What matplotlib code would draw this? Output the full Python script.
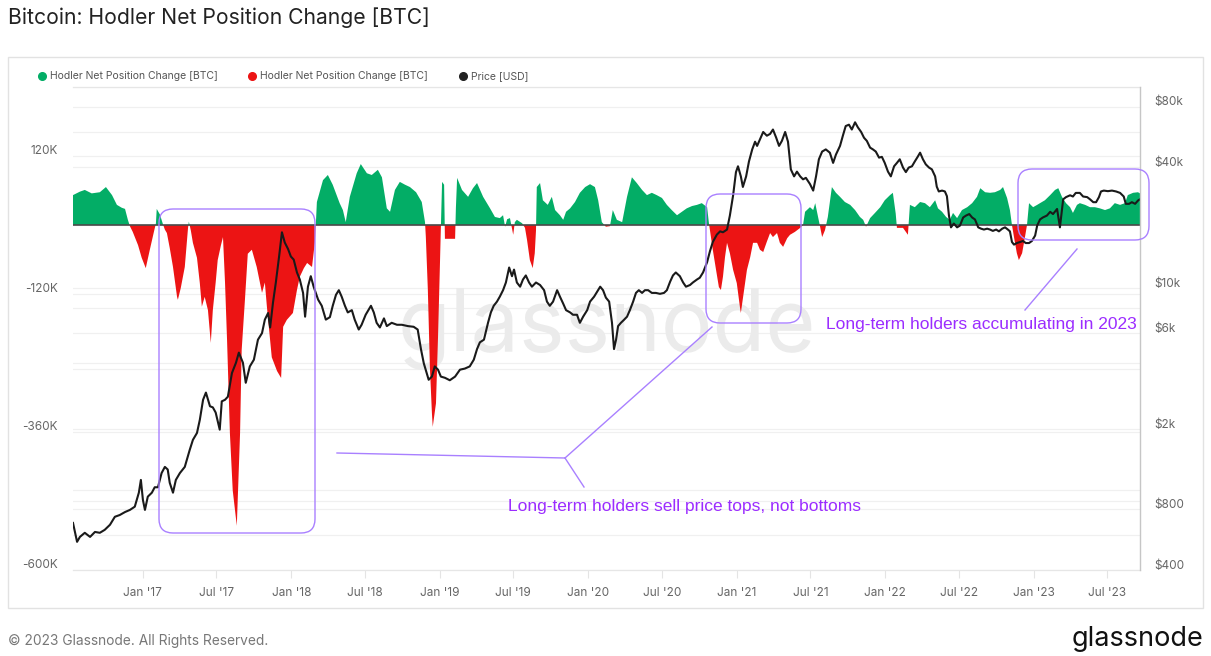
import matplotlib

matplotlib.use("Agg")
import matplotlib.dates as mdates
import matplotlib.pyplot as plt
import numpy as np
import pandas as pd
from matplotlib.patches import FancyBboxPatch, Rectangle
from matplotlib.ticker import FuncFormatter, NullLocator
from matplotlib.transforms import ScaledTranslation, blended_transform_factory

plt.rcParams["font.family"] = ["Inter", "DejaVu Sans"]

# Hodler net position change, thousands of BTC
netpos_dates = [
    "2016-07-13", "2016-07-30", "2016-08-11", "2016-08-28", "2016-09-17", "2016-10-02",
    "2016-10-17", "2016-10-29", "2016-11-10", "2016-11-18", "2016-11-25", "2016-11-30",
    "2016-12-07", "2016-12-20", "2016-12-29",
    "2017-01-08", "2017-01-18", "2017-01-28", "2017-02-02", "2017-02-04", "2017-02-12",
    "2017-02-19", "2017-02-24", "2017-03-01", "2017-03-08", "2017-03-16", "2017-03-26",
    "2017-03-28", "2017-04-04", "2017-04-14", "2017-04-22", "2017-04-24", "2017-04-29",
    "2017-05-04", "2017-05-14", "2017-05-21", "2017-05-26", "2017-06-02", "2017-06-10",
    "2017-06-17", "2017-06-22", "2017-06-29", "2017-07-04", "2017-07-12", "2017-07-17",
    "2017-07-22", "2017-07-27", "2017-08-03", "2017-08-10", "2017-08-20", "2017-08-28",
    "2017-09-01", "2017-09-09", "2017-09-16", "2017-09-26", "2017-10-08", "2017-10-21",
    "2017-10-28", "2017-11-02", "2017-11-14", "2017-11-27", "2017-12-07", "2017-12-12",
    "2017-12-21",
    "2018-01-05", "2018-01-15", "2018-01-22", "2018-02-01", "2018-02-09", "2018-02-21",
    "2018-02-28", "2018-03-03", "2018-03-05", "2018-03-20", "2018-04-01", "2018-04-13",
    "2018-04-30", "2018-05-08", "2018-05-15", "2018-05-25", "2018-06-11", "2018-06-21",
    "2018-07-06", "2018-07-18", "2018-08-02", "2018-08-12", "2018-08-24", "2018-09-01",
    "2018-09-13", "2018-09-25", "2018-10-08", "2018-10-20", "2018-11-04", "2018-11-18",
    "2018-11-26", "2018-11-28", "2018-12-03", "2018-12-08", "2018-12-13", "2018-12-15",
    "2018-12-23", "2018-12-28",
    "2019-01-02", "2019-01-04", "2019-01-07", "2019-01-12", "2019-01-14", "2019-02-08",
    "2019-02-10", "2019-02-13", "2019-02-25", "2019-03-12", "2019-03-24", "2019-04-03",
    "2019-04-18", "2019-05-05", "2019-05-17", "2019-05-29", "2019-06-06", "2019-06-11",
    "2019-06-16", "2019-06-23", "2019-07-01", "2019-07-05", "2019-07-10", "2019-07-23",
    "2019-07-30", "2019-08-04", "2019-08-11", "2019-08-18", "2019-08-23", "2019-08-26",
    "2019-08-28", "2019-09-05", "2019-09-12", "2019-09-24", "2019-10-04", "2019-10-12",
    "2019-10-24", "2019-11-01", "2019-11-08", "2019-11-18", "2019-11-30", "2019-12-12",
    "2019-12-25",
    "2020-01-06", "2020-01-18", "2020-01-26", "2020-02-04", "2020-02-14", "2020-02-24",
    "2020-03-02", "2020-03-12", "2020-03-25", "2020-04-06", "2020-04-18", "2020-04-30",
    "2020-05-13", "2020-05-25", "2020-06-06", "2020-06-18", "2020-07-01", "2020-07-13",
    "2020-07-25", "2020-08-07", "2020-08-19", "2020-08-31", "2020-09-13", "2020-09-25",
    "2020-10-07", "2020-10-20", "2020-10-25", "2020-10-27", "2020-11-03", "2020-11-11",
    "2020-11-18", "2020-11-23", "2020-11-28", "2020-12-03", "2020-12-08", "2020-12-15",
    "2020-12-23",
    "2021-01-01", "2021-01-09", "2021-01-11", "2021-01-19", "2021-01-26", "2021-02-03",
    "2021-02-10", "2021-02-20", "2021-02-27", "2021-03-07", "2021-03-16", "2021-03-24",
    "2021-03-31", "2021-04-10", "2021-04-17", "2021-04-25", "2021-05-05", "2021-05-12",
    "2021-05-24", "2021-06-06", "2021-06-13", "2021-06-18", "2021-06-30", "2021-07-08",
    "2021-07-13", "2021-07-20", "2021-07-25", "2021-07-30", "2021-08-06", "2021-08-13",
    "2021-08-23", "2021-09-02", "2021-09-12", "2021-09-24", "2021-10-07", "2021-10-19",
    "2021-10-31", "2021-11-08", "2021-11-15", "2021-11-25", "2021-12-07", "2021-12-20",
    "2021-12-31",
    "2022-01-13", "2022-01-20", "2022-01-27", "2022-01-30", "2022-02-14", "2022-02-26",
    "2022-03-03", "2022-03-15", "2022-03-28", "2022-04-09", "2022-04-21", "2022-05-04",
    "2022-05-11", "2022-05-21", "2022-05-31", "2022-06-09", "2022-06-17", "2022-06-27",
    "2022-07-09", "2022-07-22", "2022-08-03", "2022-08-15", "2022-08-23", "2022-09-04",
    "2022-09-16", "2022-09-28", "2022-10-11", "2022-10-18", "2022-10-28", "2022-11-04",
    "2022-11-09", "2022-11-14", "2022-11-21", "2022-11-26", "2022-12-04", "2022-12-11",
    "2022-12-16", "2022-12-21", "2022-12-31",
    "2023-01-10", "2023-01-17", "2023-01-29", "2023-02-11", "2023-02-23", "2023-03-03",
    "2023-03-12", "2023-03-22", "2023-04-01", "2023-04-08", "2023-04-18", "2023-04-25",
    "2023-05-08", "2023-05-20", "2023-06-01", "2023-06-13", "2023-06-26", "2023-07-08",
    "2023-07-20", "2023-08-02", "2023-08-14", "2023-08-21", "2023-09-03", "2023-09-15",
    "2023-09-20",
]
netpos_k = [
    52, 58, 61, 55, 57, 66,
    52, 35, 30, 28, 9, -2,
    -12, -35, -57,
    -75, -43, -12, 3, 28, 18,
    2, -8, -14, -40, -73, -125,
    -130, -110, -73, -5, 6, -10,
    -31, -57, -101, -142, -125, -148,
    -205, -148, -100, -61, -35, -21,
    -100, -200, -362, -462, -523, -362,
    -217, -130, -50, -43, -73, -118,
    -100, -142, -230, -254, -266, -177,
    -165,
    -153, -113, -90, -75, -66, -73,
    -30, 10, 40, 78, 87, 70,
    38, 26, 5, 49, 90, 106,
    90, 87, 96, 83, 29, 23,
    61, 75, 70, 66, 57, 40,
    5, -20, -113, -247, -327, -351,
    -310, -195,
    -61, -5, 75, 70, -24, -24,
    30, 82, 61, 49, 64, 73,
    49, 29, 14, 12, 17, -3,
    10, 12, -17, 5, 9, 3,
    -5, -26, -61, -75, -49, -10,
    66, 73, 43, 35, 49, 26,
    17, 9, 23, 29, 40, 56,
    66,
    71, 66, 43, 5, -3, -2,
    26, 9, 5, 49, 83, 73,
    61, 52, 56, 52, 47, 35,
    26, 17, 23, 29, 33, 35,
    38, 31, 0, -9, -43, -78,
    -108, -113, -90, -56, -31, -49,
    -78,
    -101, -144, -153, -113, -78, -56,
    -31, -31, -43, -47, -29, -14,
    -21, -14, -31, -38, -23, -17,
    -12, -5, 0, 23, 31, 26,
    38, 14, -3, -21, -9, 14,
    66, 56, 49, 40, 35, 26,
    14, 9, -3, 12, 21, 31,
    43,
    52, 56, 20, -5, -5, -17,
    35, 31, 40, 38, 31, 43,
    29, 23, 14, 9, 21, 12,
    26, 31, 38, 49, 64, 57,
    56, 57, 61, 66, 47, 26,
    0, -21, -49, -61, -49, -21,
    0, 38, 31,
    35, 38, 43, 52, 61, 64,
    49, 38, 31, 21, 35, 38,
    35, 31, 31, 29, 26, 29,
    38, 35, 38, 52, 56, 57,
    55,
]

# Bitcoin price, USD
price_dates = [
    "2016-07-13", "2016-07-23", "2016-07-30", "2016-08-11", "2016-08-24", "2016-09-05",
    "2016-09-17", "2016-09-29", "2016-10-12", "2016-10-24", "2016-11-05", "2016-11-18",
    "2016-11-30", "2016-12-12", "2016-12-22", "2016-12-27",
    "2017-01-01", "2017-01-06", "2017-01-13", "2017-01-23", "2017-01-30", "2017-02-07",
    "2017-02-16", "2017-02-24", "2017-03-03", "2017-03-08", "2017-03-16", "2017-03-23",
    "2017-04-02", "2017-04-14", "2017-04-26", "2017-05-04", "2017-05-14", "2017-05-21",
    "2017-05-29", "2017-06-05", "2017-06-15", "2017-06-22", "2017-06-29", "2017-07-09",
    "2017-07-14", "2017-07-22", "2017-07-29", "2017-08-08", "2017-08-18", "2017-08-25",
    "2017-09-04", "2017-09-11", "2017-09-21", "2017-10-01", "2017-10-11", "2017-10-21",
    "2017-10-28", "2017-11-05", "2017-11-10", "2017-11-17", "2017-11-24", "2017-12-02",
    "2017-12-09", "2017-12-16", "2017-12-24", "2017-12-31",
    "2018-01-07", "2018-01-15", "2018-01-22", "2018-01-30", "2018-02-04", "2018-02-11",
    "2018-02-18", "2018-02-25", "2018-03-08", "2018-03-17", "2018-03-27", "2018-04-06",
    "2018-04-13", "2018-04-21", "2018-04-28", "2018-05-05", "2018-05-13", "2018-05-20",
    "2018-05-30", "2018-06-06", "2018-06-16", "2018-06-23", "2018-07-03", "2018-07-16",
    "2018-07-23", "2018-07-30", "2018-08-07", "2018-08-17", "2018-08-24", "2018-09-05",
    "2018-09-18", "2018-09-30", "2018-10-15", "2018-10-29", "2018-11-08", "2018-11-16",
    "2018-11-23", "2018-11-30", "2018-12-05", "2018-12-13", "2018-12-20", "2018-12-28",
    "2019-01-04", "2019-01-14", "2019-01-26", "2019-02-08", "2019-02-20", "2019-03-04",
    "2019-03-16", "2019-03-26", "2019-04-03", "2019-04-10", "2019-04-20", "2019-04-30",
    "2019-05-07", "2019-05-14", "2019-05-22", "2019-05-29", "2019-06-06", "2019-06-13",
    "2019-06-21", "2019-06-28", "2019-07-03", "2019-07-10", "2019-07-18", "2019-07-25",
    "2019-08-01", "2019-08-09", "2019-08-16", "2019-08-26", "2019-09-05", "2019-09-15",
    "2019-09-22", "2019-09-29", "2019-10-07", "2019-10-17", "2019-10-24", "2019-11-01",
    "2019-11-08", "2019-11-18", "2019-11-25", "2019-12-05", "2019-12-12", "2019-12-20",
    "2019-12-30",
    "2020-01-06", "2020-01-16", "2020-01-23", "2020-01-31", "2020-02-07", "2020-02-14",
    "2020-02-22", "2020-02-29", "2020-03-05", "2020-03-10", "2020-03-15", "2020-03-22",
    "2020-03-30", "2020-04-06", "2020-04-13", "2020-04-21", "2020-04-28", "2020-05-05",
    "2020-05-13", "2020-05-20", "2020-05-28", "2020-06-06", "2020-06-16", "2020-06-26",
    "2020-07-06", "2020-07-13", "2020-07-21", "2020-07-28", "2020-08-04", "2020-08-14",
    "2020-08-22", "2020-08-29", "2020-09-08", "2020-09-15", "2020-09-25", "2020-10-02",
    "2020-10-10", "2020-10-20", "2020-10-27", "2020-11-03", "2020-11-13", "2020-11-21",
    "2020-11-28", "2020-12-08", "2020-12-15", "2020-12-23", "2020-12-30",
    "2021-01-04", "2021-01-11", "2021-01-16", "2021-01-24", "2021-01-31", "2021-02-08",
    "2021-02-15", "2021-02-20", "2021-02-27", "2021-03-07", "2021-03-16", "2021-03-24",
    "2021-03-31", "2021-04-08", "2021-04-15", "2021-04-22", "2021-04-30", "2021-05-07",
    "2021-05-14", "2021-05-22", "2021-05-29", "2021-06-06", "2021-06-13", "2021-06-20",
    "2021-06-30", "2021-07-08", "2021-07-15", "2021-07-22", "2021-07-30", "2021-08-08",
    "2021-08-18", "2021-08-26", "2021-09-02", "2021-09-12", "2021-09-19", "2021-09-26",
    "2021-10-04", "2021-10-11", "2021-10-19", "2021-10-26", "2021-11-03", "2021-11-10",
    "2021-11-17", "2021-11-25", "2021-12-02", "2021-12-09", "2021-12-17", "2021-12-24",
    "2021-12-31",
    "2022-01-08", "2022-01-15", "2022-01-23", "2022-01-30", "2022-02-06", "2022-02-14",
    "2022-02-21", "2022-02-28", "2022-03-08", "2022-03-15", "2022-03-22", "2022-03-28",
    "2022-04-04", "2022-04-11", "2022-04-19", "2022-04-26", "2022-05-04", "2022-05-08",
    "2022-05-13", "2022-05-21", "2022-05-28", "2022-06-02", "2022-06-07", "2022-06-12",
    "2022-06-19", "2022-06-27", "2022-07-04", "2022-07-12", "2022-07-19", "2022-07-27",
    "2022-08-03", "2022-08-10", "2022-08-18", "2022-08-25", "2022-09-01", "2022-09-09",
    "2022-09-16", "2022-09-23", "2022-10-01", "2022-10-08", "2022-10-16", "2022-10-23",
    "2022-10-30", "2022-11-04", "2022-11-09", "2022-11-14", "2022-11-21", "2022-11-29",
    "2022-12-06", "2022-12-13", "2022-12-21", "2022-12-28",
    "2023-01-05", "2023-01-10", "2023-01-17", "2023-01-24", "2023-02-03", "2023-02-11",
    "2023-02-18", "2023-02-28", "2023-03-07", "2023-03-15", "2023-03-22", "2023-04-01",
    "2023-04-08", "2023-04-15", "2023-04-25", "2023-05-03", "2023-05-13", "2023-05-20",
    "2023-05-28", "2023-06-04", "2023-06-11", "2023-06-16", "2023-06-23", "2023-07-03",
    "2023-07-13", "2023-07-23", "2023-08-02", "2023-08-11", "2023-08-16", "2023-08-24",
    "2023-08-31", "2023-09-08", "2023-09-15", "2023-09-20",
]
price_usd = [
    685, 552, 584, 612, 584, 618,
    612, 633, 671, 735, 750, 776,
    795, 825, 968, 1120,
    891, 795, 925, 968, 1030, 1030,
    1212, 1300, 1262, 1084, 968, 1120,
    1212, 1300, 1575, 1771, 1916, 2227,
    2800, 3040, 2600, 2567, 2420, 1990,
    2750, 2800, 2900, 3800, 4280, 4800,
    4280, 3400, 4100, 4427, 5566, 6000,
    7000, 7550, 6400, 8500, 10700, 14400,
    19000, 16900, 15700, 14400,
    13900, 12000, 11070, 9500, 7240, 10200,
    11500, 10200, 8800, 8200, 7000, 7200,
    8200, 9300, 9800, 9100, 8200, 7600,
    7800, 7000, 6250, 6600, 7400, 8200,
    7600, 6750, 6400, 7100, 6500, 6750,
    6600, 6600, 6500, 6450, 6250, 5000,
    4250, 3800, 3520, 3650, 4100, 3950,
    3650, 3600, 3500, 3650, 3950, 4000,
    4100, 4427, 5000, 5400, 5566, 6750,
    7600, 8200, 8600, 9100, 9800, 10700,
    12700, 11500, 12400, 10700, 10200, 11070,
    11600, 10700, 10200, 10700, 10400, 9800,
    8600, 8200, 8600, 9800, 9100, 8400,
    7800, 7600, 7400, 7400, 6750, 7240,
    7800,
    8600, 9100, 9600, 10200, 9800, 9000,
    8600, 6750, 5000, 5566, 6500, 6750,
    7000, 7240, 7800, 8600, 9500, 9800,
    9500, 9800, 9800, 9500, 9500, 9400,
    9500, 9800, 10800, 11600, 12000, 11500,
    10700, 10200, 10400, 10700, 11070, 11300,
    12000, 13500, 15300, 17000, 18500, 19200,
    19000, 19600, 23000, 29000, 37800,
    40400, 36000, 31900, 36000, 42700, 49000,
    53500, 51000, 55000, 59800, 57300, 58500,
    61500, 56000, 51000, 54000, 59800, 53500,
    39000, 36000, 38000, 36000, 34800, 35400,
    33000, 30600, 36000, 43760, 47800, 49000,
    47200, 42000, 46200, 51000, 57300, 64000,
    65000, 61500, 66800, 63000, 59800, 56000,
    54000, 50000, 49000, 47800, 44600, 45000,
    42000,
    38000, 36000, 40400, 42000, 43760, 39800,
    37800, 39800, 40400, 42700, 45000, 47200,
    43760, 41300, 39800, 39000, 36000, 32000,
    30300, 30600, 30300, 28700, 23000, 20100,
    21000, 20100, 20500, 22500, 23000, 23400,
    22500, 22000, 20100, 19800, 19600, 19800,
    19600, 19300, 19600, 19200, 19800, 20100,
    19600, 19200, 17000, 16500, 16800, 17000,
    17200, 16800, 16800, 17200,
    18300, 20500, 22000, 22500, 23000, 24000,
    23400, 24800, 20100, 27700, 28400, 29000,
    28600, 29800, 29800, 28600, 28400, 27700,
    26800, 26800, 28400, 30300, 30600, 30400,
    30600, 30300, 29800, 28600, 26300, 26300,
    26800, 26300, 27300, 27700,
]

left_ticks = [-600, -360, -120, 120]
right_ticks = [400, 800, 2000, 6000, 10000, 40000, 80000]
right_labels = ["$400", "$800", "$2k", "$6k", "$10k", "$40k", "$80k"]
right_grid = [600, 800, 1000, 2000, 4000, 6000, 8000, 10000, 40000, 60000, 80000]

GREEN = "#03ad66"
RED = "#ec1414"
PURPLE = "#9b2cff"
BOXC = "#a980ff"
TICKC = "#666666"

W, H = 1211, 656
fig = plt.figure(figsize=(W / 100, H / 100), dpi=100)

# plot area in pixels: x 73..1140, y 87..570
ax = fig.add_axes([73 / W, (H - 570) / H, (1140 - 73) / W, (570 - 87) / H])
ax2 = ax.twinx()

xn = mdates.date2num(pd.to_datetime(netpos_dates))
yn = np.array(netpos_k, dtype=float)
ax.fill_between(xn, 0, yn, where=yn >= 0, interpolate=True, color=GREEN, lw=0, zorder=2)
ax.fill_between(xn, 0, yn, where=yn <= 0, interpolate=True, color=RED, lw=0, zorder=2)
ax.axhline(0, color="#4a4a4a", lw=1.2, zorder=3)

xp = mdates.date2num(pd.to_datetime(price_dates))
ax2.plot(xp, price_usd, color="#1a1a1a", lw=1.5, solid_joinstyle="round")

ax.set_xlim(mdates.date2num(pd.Timestamp("2016-07-13")), mdates.date2num(pd.Timestamp("2023-09-20")))
ax.set_ylim(-600, 240)
ax2.set_yscale("log")
ax2.set_ylim(400, 100000)

# faint grid lines, all drawn behind the fills
for v in range(-600, 241, 120):
    ax.axhline(v, color="#f0f0f0", lw=0.9, zorder=0)
grid_tr = blended_transform_factory(ax.transAxes, ax2.transData)
for p in right_grid:
    ax.plot([0, 1], [p, p], transform=grid_tr, color="#f0f0f0", lw=0.9, zorder=0)

# x axis
ax.xaxis.set_major_locator(mdates.MonthLocator(bymonth=[1, 7]))
ax.xaxis.set_major_formatter(
    FuncFormatter(lambda v, pos: mdates.num2date(v).strftime("%b '%y"))
)
ax.tick_params(axis="x", length=6, width=0.8, color="#e4e4e4", pad=6,
               labelsize=8.5, labelcolor=TICKC)

# left axis
ax.set_yticks(left_ticks)
ax.set_yticklabels([f"{v}K" for v in left_ticks])
ax.tick_params(axis="y", length=0, pad=11, labelsize=8.5, labelcolor=TICKC)

# right axis
ax2.set_yticks(right_ticks)
ax2.set_yticklabels(right_labels)
ax2.yaxis.set_minor_locator(NullLocator())
ax2.tick_params(axis="y", length=0, pad=10, labelsize=8.5, labelcolor=TICKC)

lift = ScaledTranslation(0, 6 / 100, fig.dpi_scale_trans)
for lab in ax.get_yticklabels() + ax2.get_yticklabels():
    lab.set_transform(lab.get_transform() + lift)

for s in ["left", "right"]:
    ax.spines[s].set_visible(False)
for s in ["top", "bottom"]:
    ax.spines[s].set_color("#e6e6e6")
    ax.spines[s].set_linewidth(0.9)
for s in ["left", "top", "bottom"]:
    ax2.spines[s].set_visible(False)
ax2.spines["right"].set_color("#c6c6c6")
ax2.spines["right"].set_linewidth(1.0)

ax.text(0.5, 0.5, "glassnode", transform=ax.transAxes, fontsize=62,
        color="#ebebeb", ha="center", va="center", zorder=1)

# overlay in pixel coordinates for the frame, legend and annotations
ov = fig.add_axes([0, 0, 1, 1], zorder=10)
ov.set_xlim(0, W)
ov.set_ylim(H, 0)
ov.axis("off")
ov.patch.set_alpha(0)

ov.text(8, 18, "Bitcoin: Hodler Net Position Change [BTC]", fontsize=15.2,
        color="#222222", ha="left", va="center")
ov.add_patch(Rectangle((8, 57), 1195, 551, fill=False, ec="#e2e2e2", lw=1))

legend_items = [
    (42, GREEN, "Hodler Net Position Change [BTC]"),
    (252, RED, "Hodler Net Position Change [BTC]"),
    (463, "#222222", "Price [USD]"),
]
for lx, c, txt in legend_items:
    ov.plot(lx, 76, "o", ms=5.5, color=c)
    ov.text(lx + 8, 76, txt, fontsize=7.5, color="#555555", ha="left", va="center")

box_style = "round,pad=0,rounding_size=14"
ov.add_patch(FancyBboxPatch((159, 209), 156, 324, boxstyle=box_style,
                            fill=False, ec=BOXC, lw=1))
ov.add_patch(FancyBboxPatch((706, 194), 95, 129, boxstyle=box_style,
                            fill=False, ec=BOXC, lw=1))
ov.add_patch(FancyBboxPatch((1018, 169), 131, 71, boxstyle=box_style,
                            fill=False, ec=BOXC, lw=1))

ov.plot([337, 565], [453, 458], color=BOXC, lw=1)
ov.plot([565, 712], [458, 327], color=BOXC, lw=1)
ov.plot([565, 584], [458, 487], color=BOXC, lw=1)
ov.plot([1025, 1077], [310, 249], color=BOXC, lw=1)

ov.text(508, 507, "Long-term holders sell price tops, not bottoms", fontsize=12.5,
        family="Liberation Sans", color=PURPLE, ha="left", va="center")
ov.text(826, 325, "Long-term holders accumulating in 2023", fontsize=12.5,
        family="Liberation Sans", color=PURPLE, ha="left", va="center")

ov.text(8, 641, "\u00a9 2023 Glassnode. All Rights Reserved.", fontsize=9.9,
        color="#777777", ha="left", va="center")
ov.text(1203, 639, "glassnode", fontsize=19.5, color="#111111", ha="right", va="center")

fig.savefig("out.png", dpi=100)
